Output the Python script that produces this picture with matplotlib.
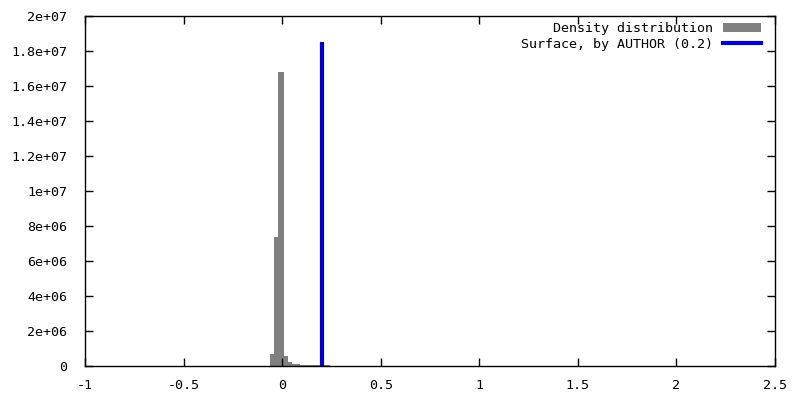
import numpy as np
import matplotlib
matplotlib.use("Agg")
import matplotlib.pyplot as plt
from matplotlib.patches import Patch
from matplotlib.lines import Line2D

# histogram bins (left edges + last right edge)
bin_edges = [-0.061, -0.041, -0.020, 0.010, 0.030, 0.050, 0.091, 0.243]
bin_counts = [6.6e5, 7.35e6, 1.68e7, 5.6e5, 2.2e5, 1.0e5, 4.0e4]

surface_x = 0.2
surface_top = 1.85e7

x_ticks = [-1, -0.5, 0, 0.5, 1, 1.5, 2, 2.5]
y_ticks = [0, 2e6, 4e6, 6e6, 8e6, 1e7, 1.2e7, 1.4e7, 1.6e7, 1.8e7, 2e7]

plt.rcParams['font.family'] = ['DejaVu Sans Mono']
plt.rcParams['font.size'] = 9.6

fig = plt.figure(figsize=(8, 4), dpi=100)
ax = fig.add_axes([85 / 800, 34 / 400, 690 / 800, 350 / 400])

edges = np.array(bin_edges)
ax.bar(edges[:-1], bin_counts, width=np.diff(edges), align='edge',
       color='#808080', linewidth=0)
ax.plot([surface_x, surface_x], [0, surface_top], color='#0000cc', lw=3,
        solid_capstyle='butt')

ax.set_xlim(-1, 2.5)
ax.set_ylim(0, 2e7)
ax.set_xticks(x_ticks)
ax.set_xticklabels([f"{v:g}" for v in x_ticks])
ax.set_yticks(y_ticks)
ax.set_yticklabels([f"{v:g}" for v in y_ticks])
ax.tick_params(direction='in', length=6, width=1, top=True, right=True,
               colors='black')
ax.tick_params(axis='x', pad=9.4)
ax.tick_params(axis='y', pad=13)
for s in ax.spines.values():
    s.set_linewidth(1)

handles = [Patch(facecolor='#808080', edgecolor='none'),
           Line2D([0], [0], color='#0000cc', lw=3)]
labels = ['Density distribution', 'Surface, by AUTHOR (0.2)']
ax.legend(handles, labels, loc='upper right',
          bbox_to_anchor=(761 / 800, 1 - 22 / 400), bbox_transform=fig.transFigure,
          frameon=False, markerfirst=False, handlelength=2.85,
          handleheight=0.6, handletextpad=0.75, labelspacing=0.2,
          borderaxespad=0, borderpad=0, fontsize=9.6)

fig.savefig('out.png', dpi=100)
